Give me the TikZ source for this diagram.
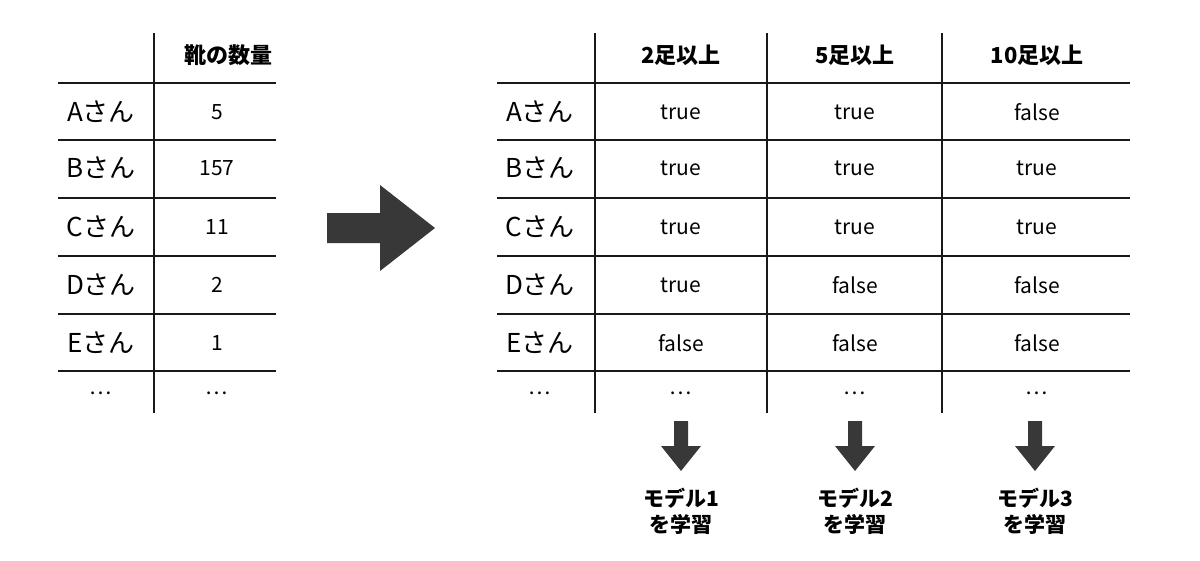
\documentclass[tikz,border=0pt]{standalone}
\usepackage{fontspec}
\setmainfont{Noto Sans CJK JP}
\begin{document}
\begin{tikzpicture}[x=1pt,y=-1pt,
  ln/.style={line width=2pt,black!90},
  rl/.style={font=\fontsize{26}{28}\selectfont},
  vl/.style={font=\fontsize{21}{24}\selectfont},
  hd/.style={font=\bfseries\fontsize{22}{24}\selectfont},
  md/.style={font=\bfseries\fontsize{21}{26}\selectfont,align=center},
  bigarrow/.style={fill=black!78,draw=none}]
\useasboundingbox (0,0) rectangle (1200,560);
% left table
\draw[ln] (154,33) -- (154,413);
\foreach \y in {83,140,198,256,314,371} \draw[ln] (58,\y) -- (276,\y);
\node[hd] (lh) at (228,55) {靴の数量};
\foreach \n/\v/\y in {A/5/112,B/157/168,C/11/227,D/2/285,E/1/343}{
  \node[rl] (l\n) at (101,\y) {\n さん};
  \node[vl] (lv\n) at (217,\y) {\v};
}
\node[vl] (ld1) at (101,393) {…};
\node[vl] (ld2) at (217,393) {…};
% big arrow
\fill[bigarrow] (327,213) -- (380,213) -- (380,185) -- (435,228) -- (380,271) -- (380,243) -- (327,243) -- cycle;
% right table
\foreach \x in {595,767,942} \draw[ln] (\x,33) -- (\x,413);
\foreach \y in {83,140,198,256,314,371} \draw[ln] (497,\y) -- (1130,\y);
\node[hd] (h1) at (681,55) {2足以上};
\node[hd] (h2) at (855,55) {5足以上};
\node[hd] (h3) at (1037,55) {10足以上};
\foreach \n/\a/\b/\c/\y in {A/true/true/false/112,B/true/true/true/168,C/true/true/true/227,D/true/false/false/285,E/false/false/false/343}{
  \node[rl] (r\n) at (540,\y) {\n さん};
  \node[vl] (r\n1) at (681,\y) {\a};
  \node[vl] (r\n2) at (855,\y) {\b};
  \node[vl] (r\n3) at (1037,\y) {\c};
}
\node[vl] (rd0) at (540,393) {…};
\node[vl] (rd1) at (681,393) {…};
\node[vl] (rd2) at (855,393) {…};
\node[vl] (rd3) at (1037,393) {…};
% down arrows and labels
\foreach \x/\k in {681/1,855/2,1035/3}{
  \fill[bigarrow] (\x-7,421) -- (\x+7,421) -- (\x+7,446) -- (\x+20,446) -- (\x,471) -- (\x-20,446) -- (\x-7,446) -- cycle;
  \node[md] (m\k) at (\x,511) {モデル\k\\を学習};
}
\end{tikzpicture}
\end{document}
